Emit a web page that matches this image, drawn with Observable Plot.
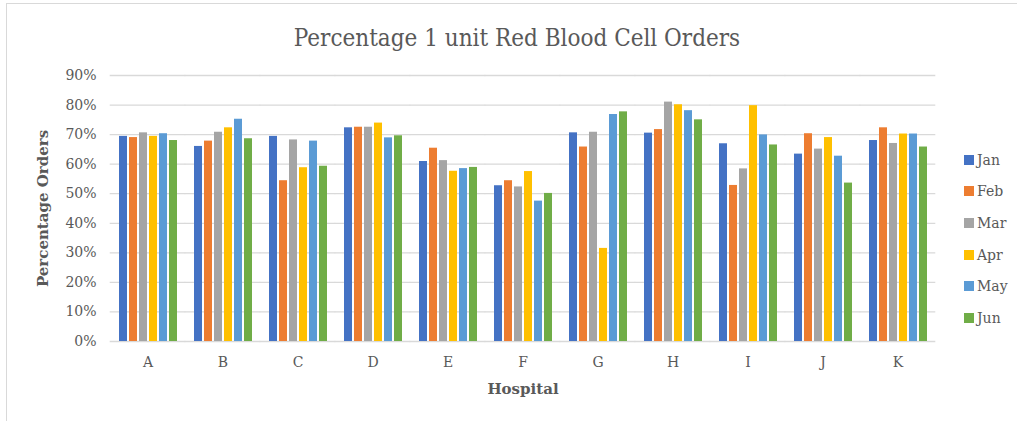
<!DOCTYPE html>
<html>
<head>
<meta charset="utf-8">
<script src="https://cdn.jsdelivr.net/npm/d3@7"></script>
<script src="https://cdn.jsdelivr.net/npm/@observablehq/plot@0.6"></script>
<style>
  html, body { margin: 0; padding: 0; background: #fff; }
  #wrap { position: relative; width: 1017px; height: 421px; overflow: hidden; font-family: "DejaVu Serif", serif; color: #595959; }
  #frame { position: absolute; left: 6px; top: 3px; width: 1030px; height: 440px; border-left: 1px solid #d9d9d9; border-top: 1px solid #d9d9d9; box-sizing: border-box; }
  #title { position: absolute; left: 0; width: 1034px; top: 24px; text-align: center; font-size: 24px; font-stretch: condensed; color: #595959; white-space: nowrap; }
  #chart { position: absolute; left: 0; top: 60px; }
  #legend { position: absolute; left: 964px; top: 144px; }
  .item { height: 31.6px; display: flex; align-items: center; font-size: 14px; white-space: nowrap; }
  .sw { width: 10px; height: 10px; margin-right: 3px; }
  g[aria-label="y-axis label"] text, g[aria-label="fx-axis label"] text { font-weight: bold; font-size: 15px; }
</style>
</head>
<body>
<div id="wrap">
  <div id="frame"></div>
  <div id="title">Percentage 1 unit Red Blood Cell Orders</div>
  <div id="chart"></div>
  <div id="legend"></div>
</div>
<script>
const hospitals = ["A", "B", "C", "D", "E", "F", "G", "H", "I", "J", "K"];
const months = ["Jan", "Feb", "Mar", "Apr", "May", "Jun"];
const colors = ["#4472C4", "#ED7D31", "#A5A5A5", "#FFC000", "#5B9BD5", "#70AD47"];
const jan = [69.4, 66.0, 69.4, 72.3, 60.9, 52.7, 70.6, 70.5, 66.9, 63.4, 68.0];
const feb = [69.0, 67.8, 54.4, 72.5, 65.4, 54.4, 65.8, 71.7, 52.8, 70.3, 72.3];
const mar = [70.6, 70.8, 68.2, 72.5, 61.2, 52.3, 70.8, 81.0, 58.4, 65.1, 67.0];
const apr = [69.4, 72.3, 58.8, 73.9, 57.6, 57.5, 31.5, 80.1, 79.8, 69.0, 70.2];
const may = [70.3, 75.2, 67.8, 68.9, 58.5, 47.5, 76.8, 78.1, 69.9, 62.7, 70.2];
const jun = [68.0, 68.6, 59.3, 69.6, 58.9, 50.1, 77.7, 75.0, 66.5, 53.6, 65.8];
const yTicks = [0, 0.1, 0.2, 0.3, 0.4, 0.5, 0.6, 0.7, 0.8, 0.9];

const series = [jan, feb, mar, apr, may, jun];
const data = [];
hospitals.forEach((h, i) => {
  months.forEach((m, j) => data.push({hospital: h, month: m, value: series[j][i] / 100}));
});

const chart = Plot.plot({
  width: 1017,
  height: 341,
  marginLeft: 110,
  marginRight: 82,
  marginTop: 15,
  marginBottom: 60,
  style: {fontFamily: "DejaVu Serif", fontSize: "14px", color: "#595959", background: "transparent"},
  fx: {domain: hospitals, paddingInner: 0.22, paddingOuter: 0.11},
  x: {domain: months, paddingInner: 0.2, paddingOuter: 0, axis: null},
  y: {domain: [0, 0.9]},
  color: {domain: months, range: colors},
  marks: [
    Plot.ruleY(yTicks, {stroke: "#d9d9d9", strokeWidth: 1.3, insetLeft: -8.3, insetRight: -8.3}),
    Plot.barY(data, {fx: "hospital", x: "month", y: "value", fill: "month"}),
    Plot.axisY({ticks: yTicks, tickFormat: d3.format(".0%"), tickSize: 0, tickPadding: 22,
      label: "Percentage Orders", labelAnchor: "center", labelArrow: "none", labelOffset: 81}),
    Plot.axisFx({anchor: "bottom", tickSize: 0, tickPadding: 16, fontSize: 14,
      label: "Hospital", labelAnchor: "center", labelArrow: "none", labelOffset: 52})
  ]
});
document.getElementById("chart").appendChild(chart);

const legend = d3.select("#legend");
months.forEach((m, j) => {
  const it = legend.append("div").attr("class", "item");
  it.append("div").attr("class", "sw").style("background", colors[j]);
  it.append("span").text(m);
});
</script>
</body>
</html>
